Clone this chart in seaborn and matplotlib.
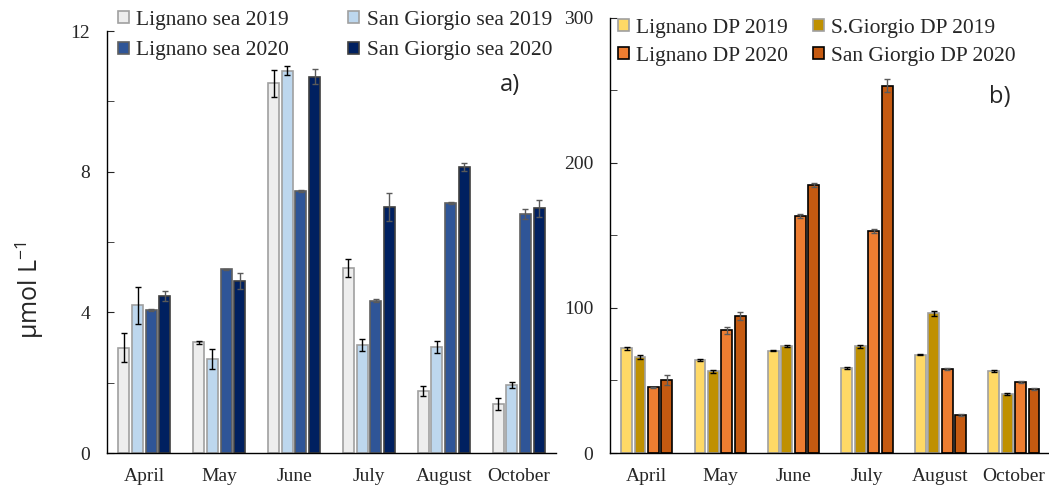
import pandas as pd
import seaborn as sns
import matplotlib.pyplot as plt
from matplotlib.ticker import MultipleLocator

# Data
months = ["April", "May", "June", "July", "August", "October"]

# panel a) - sea
sea_names = ["Lignano sea 2019", "San Giorgio sea 2019", "Lignano sea 2020", "San Giorgio sea 2020"]
sea_lig19 = [3.0, 3.15, 10.51, 5.27, 1.77, 1.40]
sea_sg19 = [4.2, 2.67, 10.87, 3.06, 3.02, 1.93]
sea_lig20 = [4.07, 5.22, 7.45, 4.33, 7.11, 6.79]
sea_sg20 = [4.47, 4.89, 10.70, 7.0, 8.13, 6.96]
sea_lig19_err = [0.40, 0.05, 0.37, 0.26, 0.15, 0.17]
sea_sg19_err = [0.53, 0.29, 0.13, 0.17, 0.18, 0.08]
sea_lig20_err = [0.03, 0.02, 0.04, 0.04, 0.02, 0.14]
sea_sg20_err = [0.15, 0.23, 0.21, 0.39, 0.11, 0.25]

# panel b) - DP
dp_names = ["Lignano DP 2019", "S.Giorgio DP 2019", "Lignano DP 2020", "San Giorgio DP 2020"]
dp_lig19 = [72.2, 64.1, 70.6, 58.6, 67.8, 56.8]
dp_sg19 = [66.2, 56.3, 74.0, 73.6, 96.3, 40.7]
dp_lig20 = [45.3, 84.6, 163.4, 153.3, 57.9, 49.0]
dp_sg20 = [50.1, 94.5, 184.8, 253.1, 26.0, 44.3]
dp_lig19_err = [1.0, 0.5, 0.5, 0.7, 0.5, 0.7]
dp_sg19_err = [1.2, 1.0, 0.8, 1.2, 1.7, 0.9]
dp_lig20_err = [0.5, 2.3, 1.6, 1.4, 0.5, 0.5]
dp_sg20_err = [3.4, 2.5, 1.4, 4.5, 0.7, 0.8]

sea_colors = ["#EDEDED", "#BDD7EE", "#2F5597", "#002060"]
sea_edges = ["#A0A0A0", "#A0A0A0", "#606060", "#404040"]
dp_colors = ["#FFD966", "#BF9000", "#ED7D31", "#C55A11"]
dp_edges = ["#A0A0A0", "#A0A0A0", "#000000", "#000000"]
err_colors = ["black", "black", "#5A5A5A", "#5A5A5A"]

sns.set_style("ticks")
plt.rcParams['font.family'] = ['Liberation Serif', 'DejaVu Serif']


def long_df(names, series):
    rows = []
    for name, vals in zip(names, series):
        for m, v in zip(months, vals):
            rows.append({"month": m, "series": name, "value": v})
    return pd.DataFrame(rows)


def draw_panel(ax, names, series, errs, colors, edges):
    df = long_df(names, series)
    sns.barplot(data=df, x="month", y="value", hue="series", hue_order=names,
                palette=colors, saturation=1, width=0.73, gap=0.19, errorbar=None,
                legend=False, ax=ax, linewidth=1.2)
    bars = list(ax.containers)
    for i, cont in enumerate(bars):
        xs = []
        for p in cont:
            p.set_edgecolor(edges[i])
            xs.append(p.get_x() + p.get_width() / 2)
        ax.errorbar(xs, series[i], yerr=errs[i], fmt="none", ecolor=err_colors[i],
                    elinewidth=1, capsize=2.5, capthick=1)
    ax.set_xlim(-0.5, 5.5)
    ax.set_xlabel("")
    ax.set_ylabel("")
    sns.despine(ax=ax)
    ax.tick_params(axis="y", direction="in", length=5, labelsize=14, pad=12)
    ax.tick_params(axis="y", which="minor", direction="in", length=5)
    ax.tick_params(axis="x", length=0, labelsize=14, pad=11)
    for s in ["left", "bottom"]:
        ax.spines[s].set_color("black")
        ax.spines[s].set_linewidth(1)
    handles = [bars[0], bars[2], bars[1], bars[3]]
    labels = [names[0], names[2], names[1], names[3]]
    return handles, labels


fig = plt.figure(figsize=(10.49, 4.9), dpi=100)
ax1 = fig.add_axes([0.102, 0.0755, 0.428, 0.861])
ax2 = fig.add_axes([0.5815, 0.0755, 0.42, 0.888])

h1, l1 = draw_panel(ax1, sea_names, [sea_lig19, sea_sg19, sea_lig20, sea_sg20],
                    [sea_lig19_err, sea_sg19_err, sea_lig20_err, sea_sg20_err],
                    sea_colors, sea_edges)
ax1.set_ylim(0, 12)
ax1.yaxis.set_major_locator(MultipleLocator(4))
ax1.yaxis.set_minor_locator(MultipleLocator(2))

h2, l2 = draw_panel(ax2, dp_names, [dp_lig19, dp_sg19, dp_lig20, dp_sg20],
                    [dp_lig19_err, dp_sg19_err, dp_lig20_err, dp_sg20_err],
                    dp_colors, dp_edges)
ax2.set_ylim(0, 300)
ax2.yaxis.set_major_locator(MultipleLocator(100))
ax2.yaxis.set_minor_locator(MultipleLocator(50))

leg_kw = dict(ncol=2, frameon=False, fontsize=15.5, handlelength=0.5, handleheight=0.5,
              handletextpad=0.35, borderaxespad=0, borderpad=0)
fig.legend(h1, l1, loc="upper left", bbox_to_anchor=(118 / 1049, 1 - 11 / 490),
           columnspacing=2.75, labelspacing=0.53, **leg_kw)
fig.legend(h2, l2, loc="upper left", bbox_to_anchor=(618 / 1049, 1 - 19 / 490),
           columnspacing=1.15, labelspacing=0.4, **leg_kw)

fig.text(30 / 1049, 1 - 290 / 490, "µmol L$^{\\mathregular{-1}}$", rotation=90,
         ha="center", va="center", fontsize=18, family=["Open Sans", "DejaVu Sans"])
fig.text(510 / 1049, 1 - 85 / 490, "a)", ha="center", va="center", fontsize=17,
         family=["Open Sans", "DejaVu Sans"])
fig.text(1000 / 1049, 1 - 97 / 490, "b)", ha="center", va="center", fontsize=17,
         family=["Open Sans", "DejaVu Sans"])

fig.savefig("out.png", dpi=100)
